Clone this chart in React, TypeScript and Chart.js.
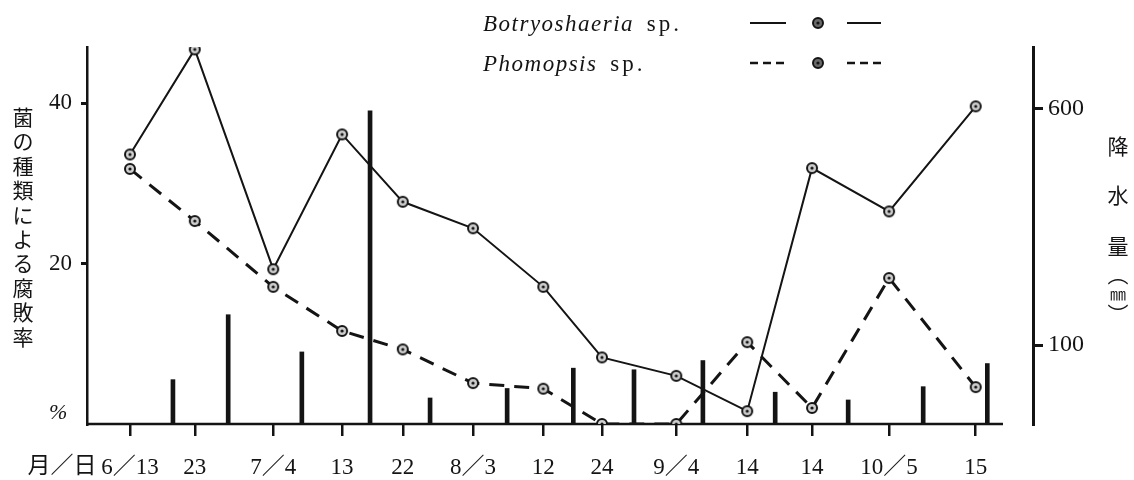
import React, { useEffect, useRef } from 'react';
import { Chart, registerables } from 'chart.js';

Chart.register(...registerables);

// ---- data ----
// sampling dates (月/日) and their positions along the date axis (days after 6/13, as drawn)
const dateLabels = ['6／13', '23', '7／4', '13', '22', '8／3', '12', '24', '9／4', '14', '14', '10／5', '15'];
const sampleDay = [0, 9.5, 21.0, 31.1, 40.0, 50.3, 60.6, 69.2, 80.1, 90.5, 100.0, 111.3, 124.0];
// rot rate by fungus species (%)
const botryosphaeria = [33.6, 46.7, 19.3, 36.1, 27.7, 24.4, 17.1, 8.3, 6.0, 1.6, 31.9, 26.5, 39.6];
const phomopsis = [31.8, 25.3, 17.1, 11.6, 9.3, 5.1, 4.4, 0, 0, 10.2, 2.0, 18.2, 4.6];
// rainfall (mm) per period, and where each bar stands on the date axis (days after 6/13)
const rainDay = [6.3, 14.4, 25.2, 35.2, 44.0, 55.3, 65.0, 73.9, 84.0, 94.6, 105.3, 116.3, 125.7];
const rainfall = [77, 126, 95, 592, 67, 72, 84, 83, 89, 70, 66, 73, 87];
// axis ticks / extents
const leftTicks = [20, 40];
const rightTicks = [100, 600];
const dayMin = -6.3;
const dayMax = 132.4;
const axisEndDay = 128.0;
const rotMax = 47;
const rainMin = 55;
const rainMax = 960;

const INK = '#141414';
const SERIF = '"Liberation Serif", "Noto Sans CJK JP", serif';
const CJK = '"Noto Sans CJK JP", sans-serif';

const leftTitle = '菌の種類による腐敗率';
const rightTitle = ['降', '水', '量', '︵', '㎜', '︶'];

function makeMarker(fill: string): HTMLCanvasElement {
  const c = document.createElement('canvas');
  c.width = 14;
  c.height = 14;
  const g = c.getContext('2d')!;
  g.beginPath();
  g.arc(7, 7, 5, 0, Math.PI * 2);
  g.fillStyle = fill;
  g.fill();
  g.lineWidth = 2;
  g.strokeStyle = INK;
  g.stroke();
  g.beginPath();
  g.arc(7, 7, 1.6, 0, Math.PI * 2);
  g.fillStyle = INK;
  g.fill();
  return c;
}

export default function App() {
  const ref = useRef<HTMLCanvasElement | null>(null);

  useEffect(() => {
    if (!ref.current) return;
    const marker = makeMarker('#cfcfcf');
    const legendMarker = makeMarker('#6a6a6a');

    const decor = {
      id: 'decor',
      beforeDatasetsDraw(chart: any) {
        const { ctx, chartArea, scales } = chart;
        ctx.save();
        ctx.strokeStyle = INK;
        ctx.lineWidth = 2.5;
        ctx.beginPath();
        ctx.moveTo(chartArea.left - 1, chartArea.bottom);
        ctx.lineTo(scales.x.getPixelForValue(axisEndDay), chartArea.bottom);
        ctx.stroke();
        ctx.restore();
      },
      afterDraw(chart: any) {
        const { ctx } = chart;
        ctx.save();
        ctx.fillStyle = INK;
        ctx.textBaseline = 'middle';
        // % label
        ctx.textAlign = 'left';
        ctx.font = `italic 22px ${SERIF}`;
        ctx.fillText('%', 49, 413);
        // 月/日
        ctx.font = `23px ${SERIF}`;
        ctx.textAlign = 'center';
        ctx.fillText('月／日', 62, 467);
        // left vertical title
        ctx.font = `21px ${CJK}`;
        Array.from(leftTitle).forEach((ch, i) => {
          ctx.fillText(ch, 23, 117 + i * 24.4);
        });
        // right vertical title
        const ry = [146, 195, 246, 274, 294, 314];
        rightTitle.forEach((ch, i) => {
          ctx.font = ch === '㎜' ? `16px ${CJK}` : `21px ${CJK}`;
          ctx.fillText(ch, 1118, ry[i]);
        });
        // legend
        const rows = [
          { name: 'Botryoshaeria', y: 25, dash: [] as number[], lw: 2 },
          { name: 'Phomopsis', y: 65, dash: [8, 5], lw: 2.5 },
        ];
        rows.forEach((r) => {
          ctx.textAlign = 'left';
          ctx.font = `italic 23px ${SERIF}`;
          (ctx as any).letterSpacing = '1.5px';
          ctx.fillText(r.name, 483, r.y);
          const w = ctx.measureText(r.name).width;
          ctx.font = `23px ${SERIF}`;
          (ctx as any).letterSpacing = '3px';
          ctx.fillText(' sp.', 483 + w + 4, r.y);
          (ctx as any).letterSpacing = '0px';
          ctx.strokeStyle = INK;
          ctx.lineWidth = r.lw;
          ctx.setLineDash(r.dash);
          ctx.beginPath();
          ctx.moveTo(750, r.y - 2);
          ctx.lineTo(786, r.y - 2);
          ctx.moveTo(847, r.y - 2);
          ctx.lineTo(881, r.y - 2);
          ctx.stroke();
          ctx.setLineDash([]);
          ctx.drawImage(legendMarker, 818 - 7, r.y - 2 - 7);
        });
        ctx.restore();
      },
    };

    const chart = new Chart(ref.current, {
      data: {
        datasets: [
          {
            type: 'line',
            label: 'Botryoshaeria sp.',
            data: sampleDay.map((d, i) => ({ x: d, y: botryosphaeria[i] })),
            yAxisID: 'y',
            borderColor: INK,
            borderWidth: 2,
            pointStyle: marker as any,
            pointRadius: 6,
            tension: 0,
            order: 1,
          },
          {
            type: 'line',
            label: 'Phomopsis sp.',
            data: sampleDay.map((d, i) => ({ x: d, y: phomopsis[i] })),
            yAxisID: 'y',
            borderColor: INK,
            borderWidth: 3,
            borderDash: [15, 10],
            pointStyle: marker as any,
            pointRadius: 6,
            tension: 0,
            order: 2,
          },
          {
            type: 'bar',
            label: '降水量',
            data: rainDay.map((d, i) => ({ x: d, y: rainfall[i] })),
            yAxisID: 'y2',
            backgroundColor: INK,
            barThickness: 4,
            order: 3,
          },
        ] as any,
      },
      options: {
        animation: false,
        responsive: false,
        layout: { padding: { top: 47, left: 0, right: 0, bottom: 0 } },
        plugins: { legend: { display: false }, tooltip: { enabled: false } },
        scales: {
          x: {
            type: 'linear',
            position: 'bottom',
            offset: false,
            min: dayMin,
            max: dayMax,
            afterFit: (s: any) => {
              s.height = 56;
            },
            afterBuildTicks: (s: any) => {
              s.ticks = sampleDay.map((v) => ({ value: v }));
            },
            grid: { offset: false, drawOnChartArea: false, drawTicks: true, tickLength: 12, color: INK, lineWidth: 2.5 },
            border: { display: false },
            ticks: {
              autoSkip: false,
              maxRotation: 0,
              padding: 18,
              color: INK,
              font: { family: SERIF, size: 23 },
              callback: (_v: any, i: number) => dateLabels[i],
            },
          },
          y: {
            type: 'linear',
            position: 'left',
            min: 0,
            max: rotMax,
            afterFit: (s: any) => {
              s.width = 87;
            },
            afterBuildTicks: (s: any) => {
              s.ticks = leftTicks.map((v) => ({ value: v }));
            },
            grid: { drawOnChartArea: false, drawTicks: true, tickLength: 6, color: INK, lineWidth: 3 },
            border: { display: true, color: INK, width: 2.5 },
            ticks: { padding: 9, color: INK, font: { family: SERIF, size: 23 } },
          },
          y2: {
            type: 'logarithmic',
            position: 'right',
            min: rainMin,
            max: rainMax,
            afterFit: (s: any) => {
              s.width = 101;
            },
            afterBuildTicks: (s: any) => {
              s.ticks = rightTicks.map((v) => ({ value: v }));
            },
            grid: { drawOnChartArea: false, drawTicks: true, tickLength: 10, color: INK, lineWidth: 3 },
            border: { display: true, color: INK, width: 3, dash: [6, 5] },
            ticks: {
              padding: 5,
              color: INK,
              font: { family: SERIF, size: 24 },
              callback: (v: any) => String(v),
            },
          },
        },
      } as any,
      plugins: [decor],
    });
    return () => chart.destroy();
  }, []);

  return (
    <div style={{ position: 'fixed', left: 0, top: 0, width: 1134, height: 480, background: '#fff' }}>
      <canvas ref={ref} width={1134} height={480} style={{ display: 'block' }} />
    </div>
  );
}
